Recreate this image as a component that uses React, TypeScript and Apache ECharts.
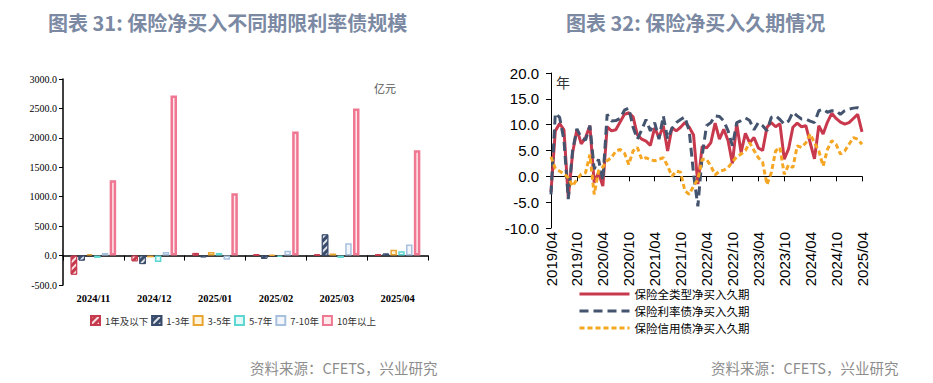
import React, { useEffect, useRef } from "react";
import * as echarts from "echarts";

// ---------- Left chart data (亿元) ----------
const barCategories = ["2024/11", "2024/12", "2025/01", "2025/02", "2025/03", "2025/04"];
const bucketNames = ["1年及以下", "1-3年", "3-5年", "5-7年", "7-10年", "10年以上"];
const bucket1y = [-325, -97, 45, 20, 20, 20];
const bucket1to3y = [-85, -145, -30, -55, 360, 35];
const bucket3to5y = [25, -30, 60, 15, 35, 100];
const bucket5to7y = [-40, -110, 45, -25, -40, 75];
const bucket7to10y = [45, 60, -70, 80, 210, 190];
const bucket10yPlus = [1280, 2720, 1060, 2110, 2500, 1790];

// ---------- Right chart data (年) ----------
const monthLabels: string[] = [];
{
  let y = 2019;
  let m = 4;
  while (y < 2025 || (y === 2025 && m <= 4)) {
    monthLabels.push(`${y}/${String(m).padStart(2, "0")}`);
    m++;
    if (m > 12) {
      m = 1;
      y++;
    }
  }
}
const lineNames = ["保险全类型净买入久期", "保险利率债净买入久期", "保险信用债净买入久期"];
const allDuration = [
  -3, 8.8, 10.2, 9.0, -4.2, 4.5, 9.1, 6.3, 7.5, 9.8, -1.2, 0.7, -1.9,
  9.6, 8.8, 9.0, 10.5, 12.0, 12.3, 11.5, 8.0, 7.2, 6.8, 6.0, 9.4,
  7.5, 9.8, 4.9, 9.4, 8.8, 9.5, 10.4, 9.5, 8.0, -1.5, 5.8, 5.5,
  6.5, 10.3, 7.2, 9.1, 6.9, 2.5, 10.2, 4.6, 8.3, 6.5, 7.5, 5.5,
  5.0, 9.5, 10.4, 9.6, 10.2, 3.3, 5.3, 9.5, 10.3, 9.6, 9.8, 6.5,
  3.4, 9.8, 8.2, 10.5, 12.2, 11.2, 10.5, 10.1, 10.4, 11.2, 12.0, 8.6,
];
const rateDuration = [
  -3.5, 12.2, 11.4, 7.0, -4.4, 5.0, 9.2, 7.5, 7.0, 9.8, 1.4, 3.3, -0.8,
  12.0, 10.7, 10.8, 11.2, 12.8, 13.2, 9.5, 7.2, 9.0, 11.0, 8.8, 10.4,
  7.2, 11.7, 7.2, 9.3, 10.4, 11.0, 11.5, 8.8, 0.5, -5.8, 4.0, 9.8,
  10.4, 11.7, 11.6, 10.7, 8.8, 5.9, 10.4, 10.8, 11.3, 10.8, 9.0, 10.4,
  9.8, 8.8, 11.4, 11.7, 11.0, 10.1, 10.7, 12.4, 11.7, 11.1, 11.1, 10.7,
  10.4, 12.7, 13.0, 12.4, 12.7, 12.7, 12.0, 12.7, 13.0, 13.2, 13.3, 13.0,
];
const creditDuration = [
  3.8, 1.5, 1.0, 0.5, -0.3, -1.9, -0.6, 0.4, 0.7, 4.2, -3.5, 1.0, 1.8,
  3.0, 3.6, 4.9, 5.2, 4.5, 2.3, 4.9, 5.6, 3.3, 3.6, 3.2, 3.0,
  3.3, 3.6, 2.0, 0.0, 1.0, 0.8, -2.8, -3.5, -1.9, -0.6, 3.3, 3.3,
  2.0, 0.3, 1.0, 1.2, 1.7, 2.8, 3.8, 4.3, 5.0, 6.5, 5.0, 3.6,
  2.7, -1.6, 0.7, 4.9, 5.6, 0.4, 2.2, 1.7, 5.9, 5.6, 6.5, 8.2,
  6.5, 4.9, 2.0, 5.2, 6.9, 6.2, 4.3, 4.9, 6.2, 7.5, 7.2, 6.2,
];

const CJK = '"Noto Sans CJK SC", sans-serif';
const SERIF = '"Liberation Serif", serif';
const SANS = '"Liberation Sans", Arial, sans-serif';

const stripe = (color: string) => ({
  symbol: "rect",
  symbolSize: 1,
  dashArrayX: [1, 0],
  dashArrayY: [2, 3],
  rotation: -Math.PI / 4,
  color,
});

const barStyles: any[] = [
  { color: "#c73a4e", borderColor: "#c73a4e", borderWidth: 1, decal: stripe("rgba(255,255,255,0.85)") },
  { color: "#3a4c6c", borderColor: "#3a4c6c", borderWidth: 1, decal: stripe("rgba(255,255,255,0.85)") },
  { color: "#fff3dc", borderColor: "#e8a532", borderWidth: 1.5 },
  { color: "#e4f9f8", borderColor: "#5ed6d1", borderWidth: 1.5 },
  { color: "#f2f6fb", borderColor: "#a7c0de", borderWidth: 1.5 },
  { color: "#fde8ec", borderColor: "#ef7791", borderWidth: 2.5 },
];
const barData = [bucket1y, bucket1to3y, bucket3to5y, bucket5to7y, bucket7to10y, bucket10yPlus];

const lineColors = ["#c8394d", "#44546f", "#f5a623"];
const lineTypes: any[] = ["solid", [9, 5], [5, 3]];
const lineData = [allDuration, rateDuration, creditDuration];

function buildOption(): any {
  const barSeries = bucketNames.map((name, i) => ({
    name,
    type: "bar",
    xAxisIndex: 0,
    yAxisIndex: 0,
    data: barData[i],
    barWidth: 6.5,
    barGap: "20%",
    itemStyle: barStyles[i],
  }));
  const lineSeries = lineNames.map((name, i) => ({
    name,
    type: "line",
    xAxisIndex: 1,
    yAxisIndex: 1,
    data: lineData[i],
    symbol: "none",
    lineStyle: { color: lineColors[i], width: 3, type: lineTypes[i] },
    itemStyle: { color: lineColors[i] },
  }));

  const lineLegends = lineNames.map((name, i) => ({
    data: [name],
    left: 578,
    top: 287 + 17 * i,
    orient: "vertical",
    padding: 0,
    itemWidth: 50,
    itemHeight: 14,
    itemStyle: { opacity: 0 },
    lineStyle: { width: 3 },
    textStyle: { fontSize: 11.5, color: "#000", fontFamily: CJK, lineHeight: 14 },
  }));

  return {
    animation: false,
    backgroundColor: "#fff",
    textStyle: { fontFamily: CJK },
    grid: [
      { left: 63, top: 79, width: 365, height: 206 },
      { left: 551, top: 73, width: 311, height: 155 },
    ],
    xAxis: [
      {
        gridIndex: 0,
        type: "category",
        data: barCategories,
        axisLine: { onZero: true, lineStyle: { color: "#000", width: 1.5 } },
        axisTick: { show: true, length: 5, lineStyle: { color: "#000" } },
        axisLabel: { margin: 8, fontFamily: SERIF, fontWeight: "bold", fontSize: 10.5, color: "#000" },
      },
      {
        gridIndex: 1,
        type: "category",
        data: monthLabels,
        boundaryGap: false,
        axisLine: { onZero: true, lineStyle: { color: "#000", width: 1 } },
        axisTick: { show: true, interval: 5, length: 5, lineStyle: { color: "#000" } },
        axisLabel: { interval: 5, rotate: 90, margin: 4, fontFamily: SANS, fontSize: 15, color: "#000" },
      },
    ],
    yAxis: [
      {
        gridIndex: 0,
        type: "value",
        min: -500,
        max: 3000,
        interval: 500,
        axisLine: { show: true, lineStyle: { color: "#000", width: 1.5 } },
        axisTick: { show: true, length: 4, lineStyle: { color: "#000" } },
        splitLine: { show: false },
        axisLabel: {
          formatter: (v: number) => v.toFixed(1),
          fontFamily: SERIF,
          fontSize: 10,
          color: "#000",
          margin: 6,
        },
      },
      {
        gridIndex: 1,
        type: "value",
        min: -10,
        max: 20,
        interval: 5,
        axisLine: { show: true, lineStyle: { color: "#000", width: 1 } },
        axisTick: { show: true, length: 5, lineStyle: { color: "#000" } },
        splitLine: { show: false },
        axisLabel: {
          formatter: (v: number) => v.toFixed(1),
          fontFamily: SANS,
          fontSize: 15,
          color: "#000",
          margin: 12,
        },
      },
    ],
    legend: [
      {
        data: bucketNames,
        left: 90,
        top: 315,
        padding: 0,
        icon: "rect",
        itemWidth: 9,
        itemHeight: 9,
        itemGap: 3,
        textStyle: { fontSize: 9.5, color: "#333", fontFamily: CJK },
      },
      ...lineLegends,
    ],
    graphic: [
      {
        type: "text",
        x: 48,
        y: 22,
        style: {
          text: "图表 31: 保险净买入不同期限利率债规模",
          fill: "#7b89a3",
          fontSize: 20,
          fontWeight: "bold",
          fontFamily: CJK,
          verticalAlign: "middle",
        },
      },
      {
        type: "text",
        x: 566,
        y: 22,
        style: {
          text: "图表 32: 保险净买入久期情况",
          fill: "#7b89a3",
          fontSize: 20,
          fontWeight: "bold",
          fontFamily: CJK,
          verticalAlign: "middle",
        },
      },
      {
        type: "text",
        x: 250,
        y: 367,
        style: { text: "资料来源：CFETS，兴业研究", fill: "#8d8d8d", fontSize: 14.5, fontFamily: CJK, verticalAlign: "middle" },
      },
      {
        type: "text",
        x: 711,
        y: 367,
        style: { text: "资料来源：CFETS，兴业研究", fill: "#8d8d8d", fontSize: 14.5, fontFamily: CJK, verticalAlign: "middle" },
      },
      {
        type: "text",
        x: 374,
        y: 88,
        style: { text: "亿元", fill: "#555", fontSize: 11, fontFamily: CJK, verticalAlign: "middle" },
      },
      {
        type: "text",
        x: 556,
        y: 82,
        style: { text: "年", fill: "#333", fontSize: 14, fontFamily: CJK, verticalAlign: "middle" },
      },
    ],
    series: [...barSeries, ...lineSeries],
  };
}

export default function App() {
  const ref = useRef<HTMLDivElement>(null);
  useEffect(() => {
    if (!ref.current) return;
    const chart = echarts.init(ref.current, null, { renderer: "svg" });
    chart.setOption(buildOption());
    return () => chart.dispose();
  }, []);
  return (
    <div
      ref={ref}
      style={{ position: "absolute", left: 0, top: 0, width: 933, height: 383, background: "#fff" }}
    />
  );
}
